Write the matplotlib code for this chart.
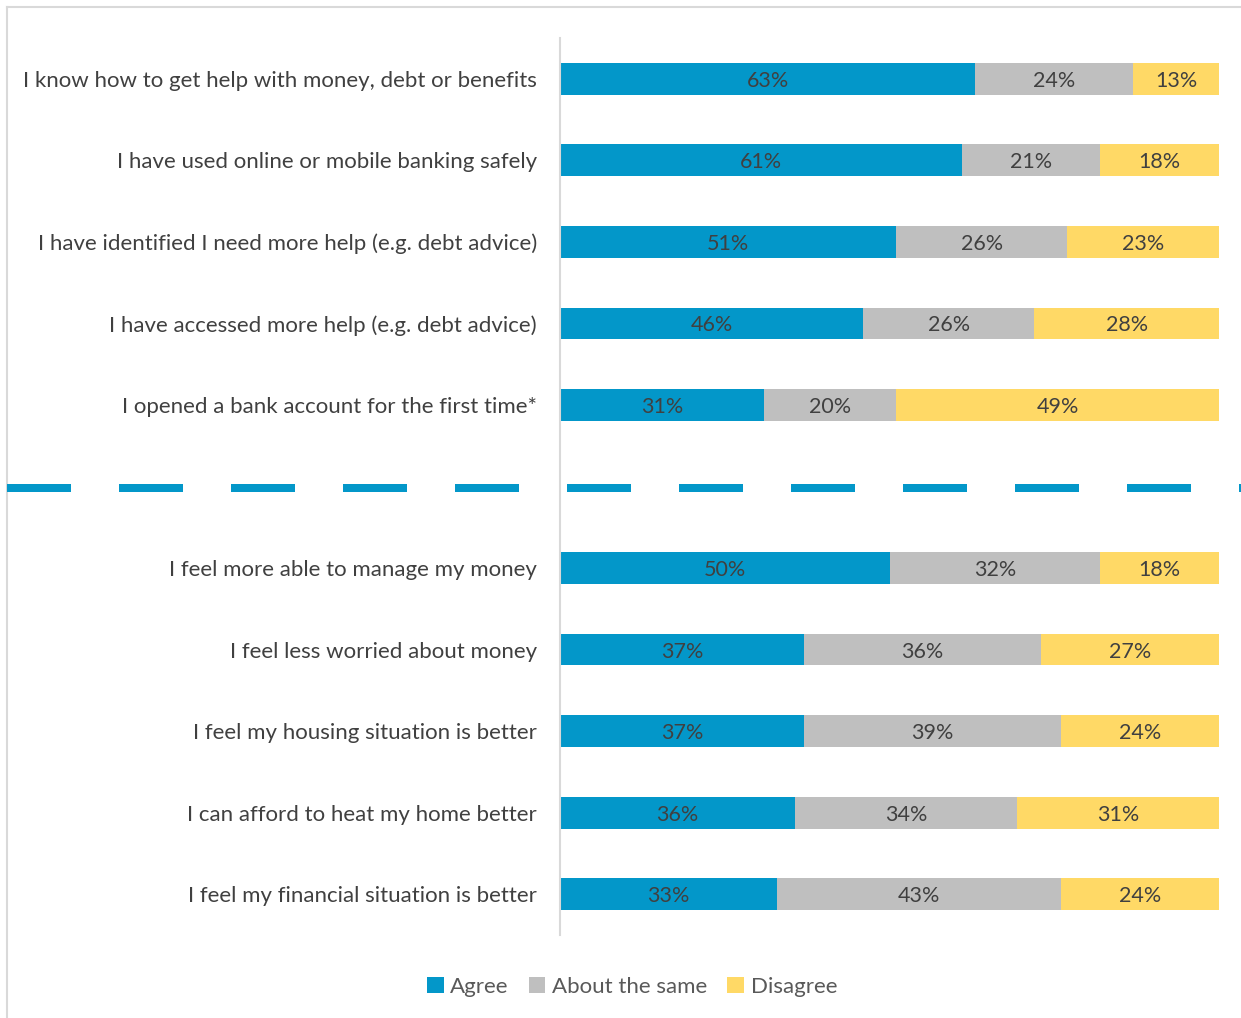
import matplotlib.pyplot as plt
from matplotlib.lines import Line2D
from matplotlib.patches import Patch
import numpy as np

plt.rcParams['font.family'] = ['Lato', 'DejaVu Sans']

# survey statements, top to bottom
statements = [
    "I know how to get help with money, debt or benefits",
    "I have used online or mobile banking safely",
    "I have identified I need more help (e.g. debt advice)",
    "I have accessed more help (e.g. debt advice)",
    "I opened a bank account for the first time*",
    "I feel more able to manage my money",
    "I feel less worried about money",
    "I feel my housing situation is better",
    "I can afford to heat my home better",
    "I feel my financial situation is better",
]
agree = [63, 61, 51, 46, 31, 50, 37, 37, 36, 33]
same = [24, 21, 26, 26, 20, 32, 36, 39, 34, 43]
disagree = [13, 18, 23, 28, 49, 18, 27, 24, 31, 24]

series = ["Agree", "About the same", "Disagree"]
colors = ["#0397C9", "#BFBFBF", "#FFD966"]
text_col = "#404040"

W, H = 1241, 1018
fig = plt.figure(figsize=(W / 100, H / 100), dpi=100)

# axes box in pixels: x 560..1220, y 38..935
ax = fig.add_axes([560 / W, 1 - 935 / H, 660 / W, 897 / H])

# ten rows plus one empty slot between the two groups
ypos = [i if i < 5 else i + 1 for i in range(len(statements))]
vals = np.array([agree, same, disagree], dtype=float)
totals = vals.sum(axis=0)
left = np.zeros(len(statements))
for k in range(3):
    width = vals[k] / totals * 100
    ax.barh(ypos, width, left=left, height=0.39, color=colors[k],
            edgecolor='none', label=series[k])
    for y, l, w, v in zip(ypos, left, width, vals[k]):
        ax.text(l + w / 2, y + 0.025, f"{int(v)}%", ha='center', va='center',
                fontsize=15.5, color=text_col)
    left += width

ax.set_xlim(0, 100.15)
ax.set_ylim(10.5, -0.5)
ax.set_yticks(ypos)
ax.set_yticklabels(statements, fontsize=16, color=text_col, va='center_baseline')
ax.tick_params(axis='y', length=0, pad=16.5)
ax.set_xticks([])
for s in ['top', 'right', 'bottom']:
    ax.spines[s].set_visible(False)
ax.spines['left'].set_color('#D9D9D9')
ax.spines['left'].set_linewidth(1.5)

# outer frame (top and left edges)
frame = dict(color='#D9D9D9', linewidth=1.5, transform=fig.transFigure)
fig.add_artist(Line2D([7 / W, 1], [1 - 7 / H, 1 - 7 / H], **frame))
fig.add_artist(Line2D([7 / W, 7 / W], [0, 1 - 7 / H], **frame))

# dashed separator between the two groups
fig.add_artist(Line2D([7 / W, 1], [1 - 488 / H, 1 - 488 / H], color=colors[0],
                      linewidth=5.76, linestyle=(0, (8, 6)),
                      transform=fig.transFigure))

handles = [Patch(facecolor=c, edgecolor='none') for c in colors]
fig.legend(handles, series, loc='center', bbox_to_anchor=(632 / W, 1 - 987 / H),
           ncol=3, frameon=False, fontsize=16, handlelength=0.75, handleheight=0.75,
           handletextpad=0.3, columnspacing=0.9, labelcolor='#595959')

fig.savefig('out.png', dpi=100)
